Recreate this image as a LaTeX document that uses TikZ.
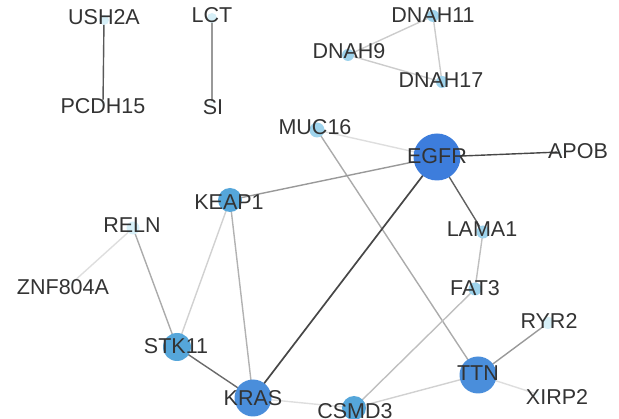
\documentclass[tikz,border=0pt]{standalone}
\usepackage{fontspec}
\setmainfont{Liberation Sans}
\usetikzlibrary{backgrounds}
\definecolor{nodeA}{HTML}{3D7DDC}
\definecolor{nodeB}{HTML}{4A8EDB}
\definecolor{nodeC}{HTML}{55A6DA}
\definecolor{nodeD}{HTML}{9ED3EC}
\definecolor{nodeE}{HTML}{D6EFF7}
\definecolor{nodeF}{HTML}{F2FAFC}
\definecolor{labeltext}{HTML}{333333}
\tikzset{
  gene/.style={circle, inner sep=0pt, minimum size=#1},
  lbl/.style={inner sep=0pt, text=labeltext, font=\fontsize{21.5}{22}\selectfont},
  link/.style={line width=1.4pt, line cap=round}
}
\begin{document}
\begin{tikzpicture}[x=1pt, y=-1pt]
\useasboundingbox (0,0) rectangle (619,419);
% gene positions
\coordinate (ush2a) at (104,20);
\coordinate (pcdh15) at (103,103);
\coordinate (lct) at (212,18);
\coordinate (si) at (212,104);
\coordinate (dnah11) at (433,16);
\coordinate (dnah9) at (348,55);
\coordinate (dnah17) at (442,82);
\coordinate (muc16) at (317,130);
\coordinate (egfr) at (437,157);
\coordinate (apob) at (560,152);
\coordinate (keap1) at (230,200);
\coordinate (reln) at (133,228);
\coordinate (znf) at (72,283);
\coordinate (stk11) at (177,347);
\coordinate (kras) at (253,398);
\coordinate (lama1) at (483,232);
\coordinate (fat3) at (475,289);
\coordinate (ryr2) at (548,323);
\coordinate (ttn) at (478,375);
\coordinate (xirp2) at (537,394);
\coordinate (csmd3) at (354,408);

% interactions
\draw[link, color=black!65] (ush2a) -- (pcdh15);
\draw[link, color=black!40] (lct) -- (si);
\draw[link, color=black!20] (dnah11) -- (dnah9);
\draw[link, color=black!20] (dnah9) -- (dnah17);
\draw[link, color=black!20] (dnah11) -- (dnah17);
\draw[link, color=black!13] (muc16) -- (egfr);
\draw[link, color=black!33] (muc16) -- (ttn);
\draw[link, color=black!72] (egfr) -- (apob);
\draw[link, color=black!40] (egfr) -- (keap1);
\draw[link, color=black!72, line width=1.7pt] (egfr) -- (kras);
\draw[link, color=black!62] (egfr) -- (lama1);
\draw[link, color=black!25] (lama1) -- (fat3);
\draw[link, color=black!25] (fat3) -- (csmd3);
\draw[link, color=black!18] (keap1) -- (stk11);
\draw[link, color=black!30] (keap1) -- (kras);
\draw[link, color=black!33] (reln) -- (stk11);
\draw[link, color=black!13] (reln) -- (znf);
\draw[link, color=black!58] (stk11) -- (kras);
\draw[link, color=black!13] (kras) -- (csmd3);
\draw[link, color=black!18] (csmd3) -- (ttn);
\draw[link, color=black!40] (ttn) -- (ryr2);
\draw[link, color=black!13] (ttn) -- (xirp2);

% gene circles
\node[gene=10pt, fill=nodeE] (n-ush2a) at (ush2a) {};
\node[gene=6pt, fill=nodeF] (n-pcdh15) at (pcdh15) {};
\node[gene=10pt, fill=nodeE] (n-lct) at (lct) {};
\node[gene=6pt, fill=nodeF] (n-si) at (si) {};
\node[gene=12pt, fill=nodeD] (n-dnah11) at (dnah11) {};
\node[gene=12pt, fill=nodeD] (n-dnah9) at (dnah9) {};
\node[gene=12pt, fill=nodeD] (n-dnah17) at (dnah17) {};
\node[gene=15pt, fill=nodeD] (n-muc16) at (muc16) {};
\node[gene=47pt, fill=nodeA] (n-egfr) at (egfr) {};
\node[gene=6pt, fill=nodeF] (n-apob) at (apob) {};
\node[gene=24pt, fill=nodeC] (n-keap1) at (keap1) {};
\node[gene=13pt, fill=nodeE] (n-reln) at (reln) {};
\node[gene=6pt, fill=nodeF] (n-znf) at (znf) {};
\node[gene=28pt, fill=nodeC] (n-stk11) at (stk11) {};
\node[gene=37pt, fill=nodeB] (n-kras) at (kras) {};
\node[gene=13pt, fill=nodeD] (n-lama1) at (lama1) {};
\node[gene=13pt, fill=nodeD] (n-fat3) at (fat3) {};
\node[gene=12pt, fill=nodeE] (n-ryr2) at (ryr2) {};
\node[gene=37pt, fill=nodeB] (n-ttn) at (ttn) {};
\node[gene=6pt, fill=nodeF] (n-xirp2) at (xirp2) {};
\node[gene=24pt, fill=nodeC] (n-csmd3) at (csmd3) {};

% gene names
\node[lbl] (t-ush2a) at (104,17) {USH2A};
\node[lbl] (t-pcdh15) at (103,106) {PCDH15};
\node[lbl] (t-lct) at (212,15) {LCT};
\node[lbl] (t-si) at (213,107) {SI};
\node[lbl] (t-dnah11) at (433,15) {DNAH11};
\node[lbl] (t-dnah9) at (349,51) {DNAH9};
\node[lbl] (t-dnah17) at (441,80) {DNAH17};
\node[lbl] (t-muc16) at (315,127) {MUC16};
\node[lbl] (t-egfr) at (437,156) {EGFR};
\node[lbl] (t-apob) at (578,151) {APOB};
\node[lbl] (t-keap1) at (229,202) {KEAP1};
\node[lbl] (t-reln) at (132,225) {RELN};
\node[lbl] (t-znf) at (63,287) {ZNF804A};
\node[lbl] (t-stk11) at (176,346) {STK11};
\node[lbl] (t-kras) at (253,398) {KRAS};
\node[lbl] (t-lama1) at (482,229) {LAMA1};
\node[lbl] (t-fat3) at (475,288) {FAT3};
\node[lbl] (t-ryr2) at (549,321) {RYR2};
\node[lbl] (t-ttn) at (478,373) {TTN};
\node[lbl] (t-xirp2) at (557,397) {XIRP2};
\node[lbl] (t-csmd3) at (355,411) {CSMD3};
\end{tikzpicture}
\end{document}
